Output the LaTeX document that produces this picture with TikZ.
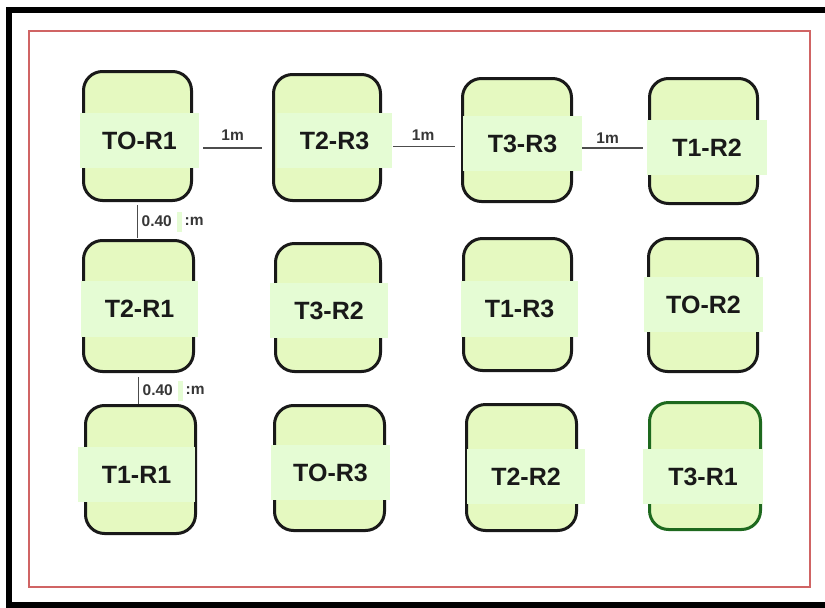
\documentclass[tikz,border=0pt]{standalone}
\usepackage{fontspec}
\setmainfont{Liberation Sans}
\usetikzlibrary{calc}
\definecolor{boxfill}{RGB}{229,249,192}
\definecolor{bandfill}{RGB}{229,252,212}
\definecolor{frred}{RGB}{208,100,100}
\definecolor{dkgreen}{RGB}{30,105,30}
\definecolor{txtgray}{RGB}{55,55,55}
\newcommand\boxat[6]{%
  \node[tilebox,#6,minimum width={#3-#2-3},minimum height={#5-#4-3}] (#1) at ({(#2+#3)/2},{(#4+#5)/2}) {};}
\newcommand\bandat[6]{%
  \node[band,minimum width={#3-#2},minimum height={#5-#4}] (#1) at ({(#2+#3)/2},{(#4+#5)/2}) {#6};}
\begin{document}
\begin{tikzpicture}[x=1pt,y=-1pt,
  tilebox/.style={draw=black!90,line width=3pt,fill=boxfill,rounded corners=19pt,inner sep=0pt},
  band/.style={fill=bandfill,inner sep=0pt,font=\fontsize{25}{25}\selectfont\bfseries,text=black!90},
  conn/.style={draw=black!70,line width=1.2pt},
  lbl/.style={inner sep=0pt,font=\fontsize{15.5}{15.5}\selectfont\bfseries,text=txtgray},
  gtick/.style={fill=bandfill,inner sep=0pt,minimum width=5pt,minimum height=20pt}]
\useasboundingbox (0,0) rectangle (825,608);
\clip (0,0) rectangle (825,608);
\fill[white] (0,0) rectangle (825,608);
% frames
\draw[line width=6pt,black] (9,10) rectangle (840,605);
\draw[line width=1.5pt,frred] (29,31) rectangle (810,587);
% row 1
\boxat{t0r1}{82}{193}{70}{202}{}
\bandat{t0r1b}{80}{199}{113}{168}{TO-R1}
\boxat{t2r3}{272}{382}{73}{202}{}
\bandat{t2r3b}{277}{392}{113}{168}{T2-R3}
\boxat{t3r3}{461}{573}{77}{203}{}
\bandat{t3r3b}{463}{582}{116}{171}{T3-R3}
\boxat{t1r2}{648}{759}{77}{205}{}
\bandat{t1r2b}{647}{767}{120}{175}{T1-R2}
% row 2
\boxat{t2r1}{82}{195}{239}{373}{}
\bandat{t2r1b}{81}{198}{281}{337}{T2-R1}
\boxat{t3r2}{274}{382}{242}{373}{}
\bandat{t3r2b}{270}{388}{283}{338}{T3-R2}
\boxat{t1r3}{462}{573}{237}{372}{}
\bandat{t1r3b}{461}{578}{281}{337}{T1-R3}
\boxat{t0r2}{647}{759}{237}{373}{}
\bandat{t0r2b}{644}{763}{277}{332}{TO-R2}
% row 3
\boxat{t1r1}{84}{197}{404}{535}{}
\bandat{t1r1b}{78}{195}{447}{502}{T1-R1}
\boxat{t0r3}{273}{386}{404}{532}{}
\bandat{t0r3b}{271}{390}{445}{500}{TO-R3}
\boxat{t2r2}{465}{578}{403}{532}{}
\bandat{t2r2b}{467}{585}{449}{504}{T2-R2}
\boxat{t3r1}{648}{762}{401}{531}{draw=dkgreen}
\bandat{t3r1b}{643}{763}{449}{504}{T3-R1}
% horizontal connectors
\coordinate (h1a) at ($(t0r1b.east)+(4,7.5)$);
\coordinate (h1b) at ($(t2r3.west |- h1a)+(-10,0)$);
\draw[conn] (h1a) -- (h1b);
\node[lbl] (l1) at ($(h1a)!0.5!(h1b)+(0,-13)$) {1m};
\coordinate (h2a) at ($(t2r3b.east)+(1,6)$);
\coordinate (h2b) at ($(t3r3.west |- h2a)+(-6,0)$);
\draw[conn] (h2a) -- (h2b);
\node[lbl] (l2) at ($(h2a)!0.5!(h2b)+(-1,-11)$) {1m};
\coordinate (h3a) at ($(t3r3b.east)+(0,4.5)$);
\coordinate (h3b) at ($(t1r2.west |- h3a)+(-5,0)$);
\draw[conn] (h3a) -- (h3b);
\node[lbl] (l3) at ($(h3a)!0.5!(h3b)+(-5,-10)$) {1m};
% vertical connectors
\coordinate (v1a) at ($(t0r1.south)+(0,3)$);
\coordinate (v1b) at ($(t2r1.north -| v1a)+(0,-1)$);
\draw[conn] (v1a) -- (v1b);
\node[lbl,anchor=west] (d1) at ($(v1a)!0.5!(v1b)+(4,0)$) {0.40};
\node[gtick,anchor=west] (g1) at ([xshift=5pt]d1.east) {};
\node[lbl,anchor=west] (m1) at ([xshift=2pt]g1.east) {:m};
\coordinate (v2a) at ($(t2r1.south)+(0,4)$);
\coordinate (v2b) at (t1r1.north -| v2a);
\draw[conn] (v2a) -- (v2b);
\node[lbl,anchor=west] (d2) at ($(v2a)!0.5!(v2b)+(4,0)$) {0.40};
\node[gtick,anchor=west] (g2) at ([xshift=5pt]d2.east) {};
\node[lbl,anchor=west] (m2) at ([xshift=2pt]g2.east) {:m};
\end{tikzpicture}
\end{document}
